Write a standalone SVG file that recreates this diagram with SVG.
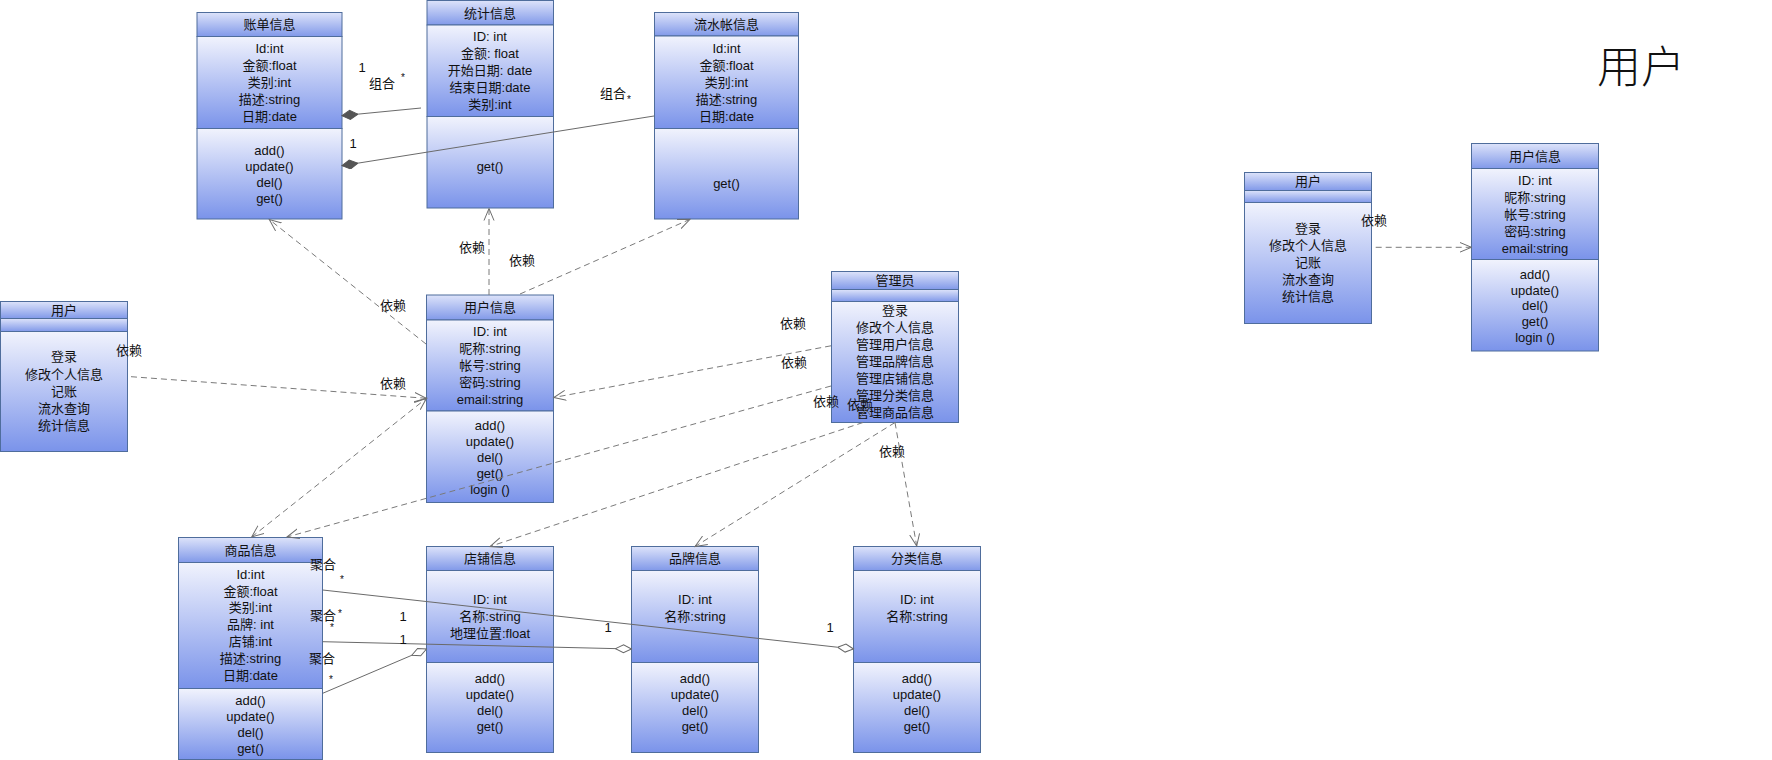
<svg xmlns="http://www.w3.org/2000/svg" width="1772" height="760" viewBox="0 0 1772 760">
<defs>
<linearGradient id="gh" x1="0" y1="0" x2="0" y2="1"><stop offset="0" stop-color="#dde3fa"/><stop offset="1" stop-color="#8199e9"/></linearGradient>
<linearGradient id="gb" x1="0" y1="0" x2="0" y2="1"><stop offset="0" stop-color="#f1f3fd"/><stop offset="1" stop-color="#7a93ea"/></linearGradient>
<marker id="open" markerUnits="userSpaceOnUse" markerWidth="14" markerHeight="12" refX="12" refY="6" orient="auto-start-reverse" viewBox="0 0 14 12"><path d="M0,1 L12,6 L0,11" fill="none" stroke="#6e6e6e" stroke-width="1"/></marker>
<marker id="dfill" markerUnits="userSpaceOnUse" markerWidth="17" markerHeight="11" refX="16" refY="5" orient="auto" viewBox="0 0 17 11"><path d="M0,5 L8,0.5 L16,5 L8,9.5 Z" fill="#555" stroke="#555" stroke-width="1"/></marker>
<marker id="dopen" markerUnits="userSpaceOnUse" markerWidth="17" markerHeight="11" refX="16" refY="5" orient="auto" viewBox="0 0 17 11"><path d="M0,5 L8,1 L16,5 L8,9 Z" fill="#fff" stroke="#666" stroke-width="1"/></marker>
</defs>
<style>
.h{fill:url(#gh);stroke:#4f6d9c;stroke-width:1}
.c{fill:url(#gb);stroke:#4f6d9c;stroke-width:1}
text{font-family:"Liberation Sans","Noto Sans CJK SC",sans-serif;font-size:13px;fill:#111;text-anchor:middle;dominant-baseline:central}
.sm{font-size:10px}
.dep{fill:none;stroke:#7a7a7a;stroke-width:1;stroke-dasharray:6 4;marker-end:url(#open)}
.cmp{fill:none;stroke:#6a6a6a;stroke-width:1;marker-end:url(#dfill)}
.agg{fill:none;stroke:#6a6a6a;stroke-width:1;marker-end:url(#dopen)}
</style>
<rect width="1772" height="760" fill="#fff"/>

<g id="n-zhangdan">
<rect class="h" x="197" y="12.5" width="145" height="24"/>
<rect class="c" x="197" y="36.5" width="145" height="92"/>
<rect class="c" x="197" y="128.5" width="145" height="90.5"/>
<text x="269.5" y="24.5">账单信息</text>
<text x="269.5" y="48">Id:int</text>
<text x="269.5" y="65">金额:float</text>
<text x="269.5" y="82">类别:int</text>
<text x="269.5" y="99">描述:string</text>
<text x="269.5" y="116">日期:date</text>
<text x="269.5" y="150">add()</text>
<text x="269.5" y="166">update()</text>
<text x="269.5" y="182">del()</text>
<text x="269.5" y="198">get()</text>
</g>

<g id="n-tongji">
<rect class="h" x="427" y="0.5" width="126.5" height="24.5"/>
<rect class="c" x="427" y="25" width="126.5" height="91.5"/>
<rect class="c" x="427" y="116.5" width="126.5" height="91.5"/>
<text x="490" y="13">统计信息</text>
<text x="490" y="36">ID: int</text>
<text x="490" y="53">金额: float</text>
<text x="490" y="70.5">开始日期: date</text>
<text x="490" y="87.5">结束日期:date</text>
<text x="490" y="104">类别:int</text>
<text x="490" y="166">get()</text>
</g>

<g id="n-liushui">
<rect class="h" x="654.5" y="12.5" width="144" height="23.5"/>
<rect class="c" x="654.5" y="36" width="144" height="92.5"/>
<rect class="c" x="654.5" y="128.5" width="144" height="90.5"/>
<text x="726.5" y="24">流水帐信息</text>
<text x="726.5" y="48">Id:int</text>
<text x="726.5" y="65">金额:float</text>
<text x="726.5" y="82">类别:int</text>
<text x="726.5" y="99">描述:string</text>
<text x="726.5" y="116">日期:date</text>
<text x="726.5" y="183">get()</text>
</g>

<g id="n-yonghu-left">
<rect class="h" x="0.5" y="301.5" width="127" height="17"/>
<rect class="h" x="0.5" y="318.5" width="127" height="13"/>
<rect class="c" x="0.5" y="331.5" width="127" height="120"/>
<text x="64" y="310">用户</text>
<text x="64" y="356.7">登录</text>
<text x="64" y="374">修改个人信息</text>
<text x="64" y="391">记账</text>
<text x="64" y="408">流水查询</text>
<text x="64" y="425">统计信息</text>
</g>

<g id="n-yonghuxinxi">
<rect class="h" x="426.5" y="295" width="127" height="25"/>
<rect class="c" x="426.5" y="320" width="127" height="91"/>
<rect class="c" x="426.5" y="411" width="127" height="91.5"/>
<text x="490" y="307.5">用户信息</text>
<text x="490" y="331">ID: int</text>
<text x="490" y="348">昵称:string</text>
<text x="490" y="365">帐号:string</text>
<text x="490" y="382">密码:string</text>
<text x="490" y="399">email:string</text>
<text x="490" y="425">add()</text>
<text x="490" y="441">update()</text>
<text x="490" y="457">del()</text>
<text x="490" y="473">get()</text>
<text x="490" y="489">login ()</text>
</g>

<g id="n-guanliyuan">
<rect class="h" x="831.5" y="271.5" width="127" height="18"/>
<rect class="h" x="831.5" y="289.5" width="127" height="12"/>
<rect class="c" x="831.5" y="301.5" width="127" height="121"/>
<text x="895" y="280.5">管理员</text>
<text x="895" y="310">登录</text>
<text x="895" y="327">修改个人信息</text>
<text x="895" y="344">管理用户信息</text>
<text x="895" y="361">管理品牌信息</text>
<text x="895" y="378">管理店铺信息</text>
<text x="895" y="395">管理分类信息</text>
<text x="895" y="412">管理商品信息</text>
</g>

<g id="n-shangpin">
<rect class="h" x="178.5" y="537.5" width="144" height="25"/>
<rect class="c" x="178.5" y="562.5" width="144" height="126"/>
<rect class="c" x="178.5" y="688.5" width="144" height="71"/>
<text x="250.5" y="550">商品信息</text>
<text x="250.5" y="574">Id:int</text>
<text x="250.5" y="591">金额:float</text>
<text x="250.5" y="607.5">类别:int</text>
<text x="250.5" y="624.5">品牌: int</text>
<text x="250.5" y="641">店铺:int</text>
<text x="250.5" y="658">描述:string</text>
<text x="250.5" y="675">日期:date</text>
<text x="250.5" y="700.5">add()</text>
<text x="250.5" y="716.5">update()</text>
<text x="250.5" y="732.5">del()</text>
<text x="250.5" y="748.5">get()</text>
</g>

<g id="n-dianpu">
<rect class="h" x="426.5" y="546.5" width="127" height="24"/>
<rect class="c" x="426.5" y="570.5" width="127" height="92"/>
<rect class="c" x="426.5" y="662.5" width="127" height="90"/>
<text x="490" y="558.5">店铺信息</text>
<text x="490" y="599.5">ID: int</text>
<text x="490" y="616.5">名称:string</text>
<text x="490" y="633.5">地理位置:float</text>
<text x="490" y="678.5">add()</text>
<text x="490" y="694.5">update()</text>
<text x="490" y="710.5">del()</text>
<text x="490" y="726.5">get()</text>
</g>

<g id="n-pinpai">
<rect class="h" x="631.5" y="546.5" width="127" height="24"/>
<rect class="c" x="631.5" y="570.5" width="127" height="92"/>
<rect class="c" x="631.5" y="662.5" width="127" height="90"/>
<text x="695" y="558.5">品牌信息</text>
<text x="695" y="599.5">ID: int</text>
<text x="695" y="616.5">名称:string</text>
<text x="695" y="678.5">add()</text>
<text x="695" y="694.5">update()</text>
<text x="695" y="710.5">del()</text>
<text x="695" y="726.5">get()</text>
</g>

<g id="n-fenlei">
<rect class="h" x="853.5" y="546.5" width="127" height="24"/>
<rect class="c" x="853.5" y="570.5" width="127" height="92"/>
<rect class="c" x="853.5" y="662.5" width="127" height="90"/>
<text x="917" y="558.5">分类信息</text>
<text x="917" y="599.5">ID: int</text>
<text x="917" y="616.5">名称:string</text>
<text x="917" y="678.5">add()</text>
<text x="917" y="694.5">update()</text>
<text x="917" y="710.5">del()</text>
<text x="917" y="726.5">get()</text>
</g>

<g id="n-yonghu-right">
<rect class="h" x="1244.5" y="172.5" width="127" height="18"/>
<rect class="h" x="1244.5" y="190.5" width="127" height="12"/>
<rect class="c" x="1244.5" y="202.5" width="127" height="121"/>
<text x="1308" y="181.5">用户</text>
<text x="1308" y="228.5">登录</text>
<text x="1308" y="245.5">修改个人信息</text>
<text x="1308" y="262.5">记账</text>
<text x="1308" y="279.5">流水查询</text>
<text x="1308" y="296">统计信息</text>
</g>

<g id="n-yonghuxinxi-right">
<rect class="h" x="1471.5" y="143.5" width="127" height="25"/>
<rect class="c" x="1471.5" y="168.5" width="127" height="91"/>
<rect class="c" x="1471.5" y="259.5" width="127" height="91.5"/>
<text x="1535" y="156">用户信息</text>
<text x="1535" y="180">ID: int</text>
<text x="1535" y="197.5">昵称:string</text>
<text x="1535" y="214.5">帐号:string</text>
<text x="1535" y="231.5">密码:string</text>
<text x="1535" y="248">email:string</text>
<text x="1535" y="274">add()</text>
<text x="1535" y="290">update()</text>
<text x="1535" y="305.5">del()</text>
<text x="1535" y="321.5">get()</text>
<text x="1535" y="337.5">login ()</text>
</g>

<g id="connectors">
<path class="cmp" d="M421,108 L342,115.7"/>
<path class="cmp" d="M654,116 L342,165.7"/>
<path class="dep" d="M131,376.7 L426.5,398.3"/>
<path class="dep" d="M426,344 L269.3,219.5"/>
<path class="dep" d="M489,295 L489,208.5"/>
<path class="dep" d="M520,294 L690,219.3"/>
<path class="dep" d="M251.7,537 L426.5,398.3" style="marker-start:url(#open)"/>
<path class="dep" d="M831,345.8 L553.8,397.5"/>
<path class="dep" d="M831,386 L287,537"/>
<path class="dep" d="M863,422.5 L490,546.5"/>
<path class="dep" d="M895,422.5 L695,546.5"/>
<path class="dep" d="M895,422.5 L916.7,546"/>
<path class="dep" d="M1375.7,247.3 L1471.5,247.3"/>
<path class="agg" d="M322.7,590 L853.5,649"/>
<path class="agg" d="M322.7,641.7 L631.5,649"/>
<path class="agg" d="M322.7,693.3 L426.5,649"/>
<path d="M860,418 L865.5,409 L871,416" fill="none" stroke="#6e6e6e" stroke-width="1"/>
</g>

<g id="labels">
<text x="362" y="67">1</text>
<text x="382" y="83">组合</text>
<text class="sm" x="403" y="77">*</text>
<text x="353" y="143">1</text>
<text x="613" y="93">组合</text>
<text class="sm" x="629" y="99">*</text>
<text x="129" y="350">依赖</text>
<text x="393" y="383">依赖</text>
<text x="393" y="305">依赖</text>
<text x="472" y="247">依赖</text>
<text x="522" y="260">依赖</text>
<text x="793" y="323">依赖</text>
<text x="794" y="362">依赖</text>
<text x="826" y="401">依赖</text>
<text x="860" y="404">依赖</text>
<text x="892" y="451">依赖</text>
<text x="1374" y="220">依赖</text>
<text x="323" y="564">聚合</text>
<text class="sm" x="342" y="579">*</text>
<text x="323" y="615">聚合</text>
<text class="sm" x="340" y="613">*</text>
<text class="sm" x="332" y="627">*</text>
<text x="403" y="616">1</text>
<text x="403" y="639">1</text>
<text x="322" y="658">聚合</text>
<text class="sm" x="331" y="679">*</text>
<text x="608" y="627">1</text>
<text x="830" y="627">1</text>
<text x="1641" y="64" style="font-size:44px;font-family:'Noto Sans CJK SC',sans-serif;font-weight:300">用户</text>
</g>
</svg>
